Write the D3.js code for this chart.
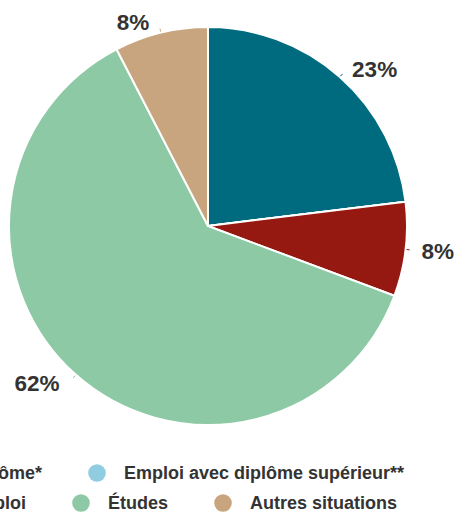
<!DOCTYPE html>
<html><head><meta charset="utf-8">
<script src="https://cdn.jsdelivr.net/npm/d3@7"></script>
<style>body{margin:0;background:#fff}svg{display:block}</style>
</head><body>
<svg id="c" width="454" height="512"></svg>
<script>
const categories = ["Emploi avec diplôme*", "Emploi avec diplôme supérieur**", "Sans emploi", "Études", "Autres situations"];
const values = [23.05, 0, 7.65, 61.7, 7.6];
const colors = ["#006b7f", "#90cde0", "#951811", "#8cc9a4", "#c8a57f"];
const legendRows = [[0, 1], [2, 3, 4]];

const svg = d3.select("#c");
const W = 454, H = 512;
const cx = 208, cy = 226, r = 199;
const font = "'Liberation Sans', Arial, sans-serif";

const pie = d3.pie().sort(null).value(d => d)(values);
const arc = d3.arc().innerRadius(0).outerRadius(r);
const g = svg.append("g").attr("transform", `translate(${cx},${cy})`);
g.selectAll("path").data(pie).enter().append("path")
  .attr("d", arc).attr("fill", (d, i) => colors[i])
  .attr("stroke", "#fff").attr("stroke-width", 2).attr("stroke-linejoin", "round");

// data labels
const lr = r + 11;
const labelArc = d3.arc().innerRadius(lr).outerRadius(lr);
const lab = g.selectAll("g.lab").data(pie.filter(d => d.value > 0)).enter().append("g");
lab.each(function(d) {
  const a = (d.startAngle + d.endAngle) / 2;
  const x = Math.sin(a) * lr, y = -Math.cos(a) * lr;
  const right = Math.sin(a) >= 0;
  const sel = d3.select(this);
  // short connector
  sel.append("line")
    .attr("x1", Math.sin(a) * (r + 1)).attr("y1", -Math.cos(a) * (r + 1))
    .attr("x2", Math.sin(a) * (r + 4)).attr("y2", -Math.cos(a) * (r + 4))
    .attr("stroke", colors[d.index]).attr("stroke-width", 1);
  sel.append("text")
    .attr("x", x + (right ? 5 : -9)).attr("y", y)
    .attr("dy", "0.35em")
    .attr("text-anchor", right ? "start" : "end")
    .attr("font-family", font).attr("font-weight", "bold").attr("font-size", 22.5)
    .attr("fill", "#333")
    .text(Math.round(d.value) + "%");
});

// legend
const rowY = [473, 503];
const anchorCx = [97, 81]; // circle x of the 2nd item per row
const fs = 18, gapText = 27, gapItem = 55;
legendRows.forEach((row, ri) => {
  const items = row.map(i => {
    const gi = svg.append("g");
    gi.append("circle").attr("r", 8.8).attr("fill", colors[i]);
    const t = gi.append("text").attr("x", gapText).attr("dy", "0.35em")
      .attr("font-family", font).attr("font-weight", "bold").attr("font-size", fs)
      .attr("fill", "#333").text(categories[i]);
    return {g: gi, w: t.node().getComputedTextLength()};
  });
  // position items sequentially, anchored on 2nd item
  const xs = [];
  xs[1] = anchorCx[ri];
  xs[0] = xs[1] - gapItem - items[0].w - gapText;
  for (let k = 2; k < items.length; k++) xs[k] = xs[k - 1] + gapText + items[k - 1].w + gapItem;
  items.forEach((it, k) => it.g.attr("transform", `translate(${xs[k]},${rowY[ri]})`));
});
</script>
</body></html>
